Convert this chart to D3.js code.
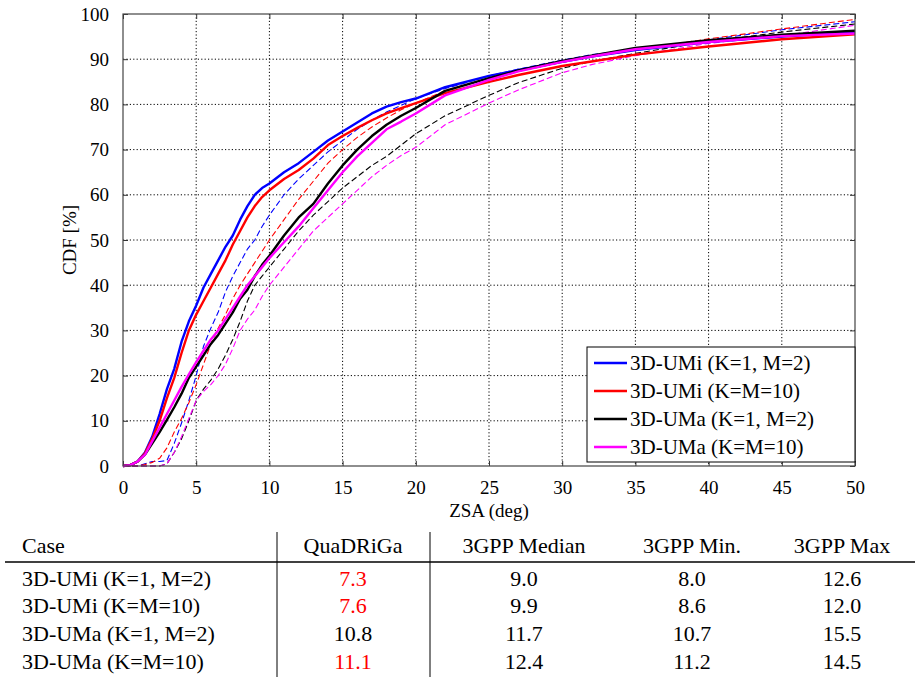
<!DOCTYPE html>
<html>
<head>
<meta charset="utf-8">
<script src="https://cdn.jsdelivr.net/npm/d3@7"></script>
<style>
    body { margin: 0; background: #fff; }
    svg text { font-family: "Liberation Serif", "Tinos", "Times New Roman", serif; fill: #000; }
</style>
</head>
<body>
<div class="data_figure"></div>
<script>
// ZSA sample points (deg), shared by all curves
const zsa = [0,0.5,1,1.5,2,2.5,3,3.5,4,4.5,5,5.5,6,6.5,7,7.5,8,8.5,9,9.5,10,11,12,13,14,15,16,17,18,19,20,22,25,27,30,32,35,40,45,50];

// QuaDRiGa curves (solid), CDF in %
const umiK1 = [0,0.2,1,3,6.5,11.5,17,21.5,27.5,32,35.5,39.5,42.5,45.5,48.5,51,54.5,57.5,60,61.5,62.5,65,67,69.5,72,74,76,78,79.5,80.5,81.3,83.8,86.3,87.6,89.4,90.6,92,93.8,95,96];
const umiK10 = [0,0.2,1,2.8,6,10,15,19.5,25,30,33.5,36.5,39.5,42.5,45.5,49,52,55,57.5,59.5,61,63.5,65.5,68,71,73,74.8,76.5,78,79.2,80.3,82.5,85,86.5,88.5,89.5,91,92.8,94.4,95.5];
const umaK1 = [0,0.2,1,2.5,5,7.5,10.2,13,16,19.5,22,24.5,27,29,31.5,34,37,39,42,44.5,46.5,51,55,58,62.5,66.5,70,73,75.5,77.5,79.2,83,85.8,87.5,89.6,90.8,92.5,94.2,95.4,96.3];
const umaK10 = [0,0.2,1,2.5,5.5,8.5,11.5,14.5,17.5,20.3,23,25.5,28,30,32.5,35,37.5,40,42,44,46,49.5,53,57,61,65,68.5,71.5,74.5,76.2,78,82,85.4,87.3,89.4,90.6,92.2,93.8,95.1,95.7];

// 3GPP reference curves (dashed)
const gppUmiK1 = [0,0,0,0.5,1,1,1.2,5,9.5,14.5,20,26.5,30.5,34,38.5,42,45,48,50,53,55.5,60,63.5,66.5,69.5,72,74.5,76.5,78.3,79.8,81.3,83.5,86.3,87.8,89.8,91,92.2,94.3,96.5,98.3];
const gppUmiK10 = [0,0,0,0.3,0.8,1.7,4,7.5,10.5,14,18,22.5,27,30.5,33.5,37,40,42.5,45,47.5,50,54.5,59,63,67,70,72.7,75,77,78.8,80.3,83,85.8,87.3,89.3,90.5,92,94.5,96.7,98.8];
const gppUmaK1 = [0,0,0,0,0,0,0.5,3,6,10,14.5,17,19,21.5,24.5,28,32,36.5,40,42,44,48,52,55.5,58.5,61.5,64,66.5,68.5,71,73.5,77.5,82,84.8,88,89.5,91.3,93.9,96,97.8];
const gppUmaK10 = [0,0,0,0,0,0,0.5,3,6.5,10.5,14.5,16.5,18,20,22.5,26,30,32.5,34.5,37.5,40,44,48,52,55,58,61,64,66.5,68.7,70.5,75.5,80.3,83.2,87,88.8,90.8,93.5,95.2,97.5];

const caseNames = ["3D-UMi (K=1, M=2)", "3D-UMi (K=M=10)", "3D-UMa (K=1, M=2)", "3D-UMa (K=M=10)"];
const caseColors = ["#0000ff", "#ff0000", "#000000", "#ff00ff"];

// table: medians in deg
const tableHeader = ["Case", "QuaDRiGa", "3GPP Median", "3GPP Min.", "3GPP Max"];
const quadrigaMedian = [7.3, 7.6, 10.8, 11.1];
const gppMedian = [9.0, 9.9, 11.7, 12.4];
const gppMin = [8.0, 8.6, 10.7, 11.2];
const gppMax = [12.6, 12.0, 15.5, 14.5];

const xTicks = [0,5,10,15,20,25,30,35,40,45,50];
const yTicks = [0,10,20,30,40,50,60,70,80,90,100];

const widthMax = 920;
const heightMax = 677;
const margin = { top: 14, left: 123, right: 65, bottom: 211 };
const width = widthMax - margin.left - margin.right;
const height = heightMax - margin.top - margin.bottom;
const fontStack = "'Liberation Serif', 'Tinos', 'Times New Roman', serif";

const svg = d3.select(".data_figure")
            .append("svg")
            .attr("width", widthMax)
            .attr("height", heightMax);

const x = d3.scaleLinear().domain([0, 50]).range([0, width]);
const y = d3.scaleLinear().domain([0, 100]).range([height, 0]);

const plot = svg.append("g")
            .attr("transform", "translate(" + margin.left + "," + margin.top + ")");

// dotted grid
plot.append("g").selectAll("line")
    .data(xTicks.slice(1, -1))
    .enter()
        .append("line")
        .attr("x1", (d) => x(d)).attr("x2", (d) => x(d))
        .attr("y1", 0).attr("y2", height)
        .attr("stroke", "#000")
        .attr("stroke-dasharray", "1.2,2.2");
plot.append("g").selectAll("line")
    .data(yTicks.slice(1, -1))
    .enter()
        .append("line")
        .attr("x1", 0).attr("x2", width)
        .attr("y1", (d) => y(d)).attr("y2", (d) => y(d))
        .attr("stroke", "#000")
        .attr("stroke-dasharray", "1.2,2.2");

// axes, ticks pointing inwards
const xAxis = plot.append("g")
    .attr("transform", "translate(0," + height + ")")
    .call(d3.axisBottom(x).tickValues(xTicks).tickSize(-5).tickPadding(15));
const yAxis = plot.append("g")
    .call(d3.axisLeft(y).tickValues(yTicks).tickSize(-5).tickPadding(14));
plot.append("g")
    .call(d3.axisTop(x).tickValues(xTicks).tickSize(-5).tickFormat(""));
plot.append("g")
    .attr("transform", "translate(" + width + ",0)")
    .call(d3.axisRight(y).tickValues(yTicks).tickSize(-5).tickFormat(""));
plot.selectAll(".domain").attr("stroke", "none");
plot.selectAll(".tick line").attr("stroke", "#333");
[xAxis, yAxis].forEach((a) => a.selectAll("text")
    .style("font-family", fontStack)
    .style("font-size", "19px")
    .attr("fill", "#000"));

// curves
const line = d3.line()
    .x((d, i) => x(zsa[i]))
    .y((d) => y(d));

const gppSeries = [gppUmiK1, gppUmiK10, gppUmaK1, gppUmaK10];
const quadSeries = [umiK1, umiK10, umaK1, umaK10];

plot.append("g").selectAll("path")
    .data(gppSeries)
    .enter()
        .append("path")
        .attr("d", line)
        .attr("fill", "none")
        .attr("stroke", (d, i) => caseColors[i])
        .attr("stroke-width", 1.1)
        .attr("stroke-dasharray", "6,3");

plot.append("g").selectAll("path")
    .data(quadSeries)
    .enter()
        .append("path")
        .attr("d", line)
        .attr("fill", "none")
        .attr("stroke", (d, i) => caseColors[i])
        .attr("stroke-width", 2.4)
        .attr("stroke-linejoin", "round");

// frame
plot.append("rect")
    .attr("width", width)
    .attr("height", height)
    .attr("fill", "none")
    .attr("stroke", "#444")
    .attr("stroke-width", 1.2);

// axis labels
svg.append("text")
    .text("ZSA (deg)")
    .attr("x", margin.left + width / 2)
    .attr("y", 517)
    .attr("text-anchor", "middle")
    .style("font-size", "19px");
svg.append("text")
    .text("CDF [%]")
    .attr("transform", "translate(76," + (margin.top + height / 2) + ") rotate(-90)")
    .attr("text-anchor", "middle")
    .style("font-size", "19px");

// legend
const legend = svg.append("g")
    .attr("transform", "translate(587,347)");
legend.append("rect")
    .attr("width", 268)
    .attr("height", 115)
    .attr("fill", "#fff")
    .attr("stroke", "#000")
    .attr("stroke-width", 1);
const legendItems = legend.selectAll(".legend-item")
    .data(caseNames)
    .enter()
        .append("g")
        .attr("transform", (d, i) => "translate(0," + (16 + i * 28) + ")");
legendItems.append("line")
    .attr("x1", 7).attr("x2", 40)
    .attr("stroke", (d, i) => caseColors[i])
    .attr("stroke-width", 2.4);
legendItems.append("text")
    .text((d) => d)
    .attr("x", 43)
    .attr("dy", "0.35em")
    .style("font-size", "21px");

// table of medians
const colX = [22, 353, 524, 692, 842];
const headY = 545;
const rowY = [578, 605, 633, 661];
const table = svg.append("g").attr("class", "table");

table.selectAll(".head")
    .data(tableHeader)
    .enter()
        .append("text")
        .text((d) => d)
        .attr("x", (d, i) => colX[i])
        .attr("y", headY)
        .attr("dy", "0.35em")
        .attr("text-anchor", (d, i) => i == 0 ? "start" : "middle")
        .style("font-size", "22px");

table.append("line")
    .attr("x1", 5).attr("x2", 915)
    .attr("y1", 562).attr("y2", 562)
    .attr("stroke", "#000").attr("stroke-width", 1.5);
[277, 430].forEach((vx) => {
    table.append("line")
        .attr("x1", vx).attr("x2", vx)
        .attr("y1", 532).attr("y2", 677)
        .attr("stroke", "#000").attr("stroke-width", 1);
});

caseNames.forEach((name, r) => {
    const cells = [name, quadrigaMedian[r], gppMedian[r], gppMin[r], gppMax[r]];
    table.selectAll(".row" + r)
        .data(cells)
        .enter()
            .append("text")
            .text((d, i) => i == 0 ? d : d.toFixed(1))
            .attr("x", (d, i) => colX[i])
            .attr("y", rowY[r])
            .attr("dy", "0.35em")
            .attr("text-anchor", (d, i) => i == 0 ? "start" : "middle")
            // QuaDRiGa value in red when it is below the 3GPP minimum
            .style("fill", (d, i) => (i == 1 && d < gppMin[r]) ? "#ff0000" : "#000")
            .style("font-size", "22px");
});
</script>
</body>
</html>
